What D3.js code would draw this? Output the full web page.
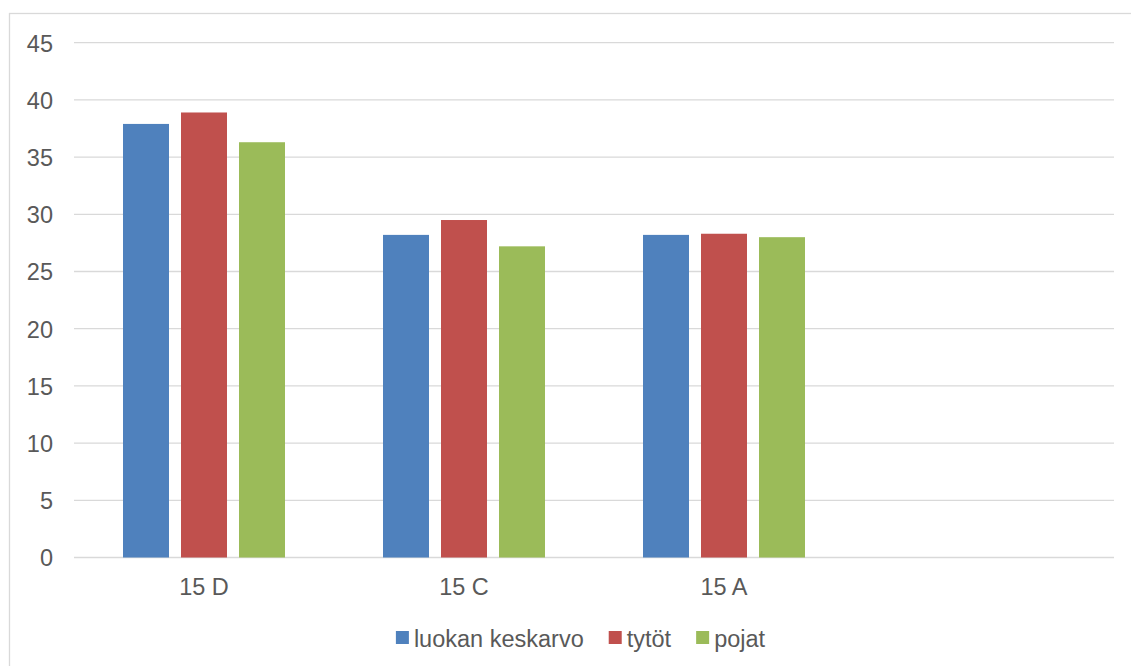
<!DOCTYPE html>
<html>
<head>
<meta charset="utf-8">
<script src="https://cdn.jsdelivr.net/npm/d3@7"></script>
<style>
  html, body { margin: 0; padding: 0; background: #fff; }
  svg { display: block; }
  text { font-family: "Liberation Sans", Arial, sans-serif; fill: #595959; }
</style>
</head>
<body>
<svg id="chart" width="1131" height="666"></svg>
<script>
const categories = ["15 D", "15 C", "15 A", ""];
const seriesNames = ["luokan keskarvo", "tytöt", "pojat"];
const luokanKeskarvo = [37.9, 28.2, 28.2, null];
const tytot = [38.9, 29.5, 28.3, null];
const pojat = [36.3, 27.2, 28.0, null];
const yTicks = [0, 5, 10, 15, 20, 25, 30, 35, 40, 45];
const colors = ["#4F81BD", "#C0504D", "#9BBB59"];

const seriesValues = [luokanKeskarvo, tytot, pojat];

const svg = d3.select("#chart");
const W = 1131, H = 666;
const plot = { left: 74, right: 1114, top: 42.7, bottom: 557.5 };
const fontSize = 23.5;

// outer chart border
svg.append("rect")
  .attr("x", 9.5).attr("y", 13.5)
  .attr("width", W + 20).attr("height", H)
  .attr("fill", "#fff").attr("stroke", "#D9D9D9").attr("stroke-width", 1.3);

const x0 = d3.scaleBand().domain(categories).range([plot.left, plot.right]).paddingInner(0).paddingOuter(0);
const x1 = d3.scaleBand().domain(seriesNames).range([-81, 81]).paddingInner(12 / 58).paddingOuter(0);
const y = d3.scaleLinear().domain([0, 45]).range([plot.bottom, plot.top]);

// gridlines
svg.append("g")
  .selectAll("line").data(yTicks).join("line")
  .attr("x1", plot.left).attr("x2", plot.right)
  .attr("y1", d => y(d)).attr("y2", d => y(d))
  .attr("stroke", "#D9D9D9").attr("stroke-width", 1.3);

// y axis labels
const yAxis = d3.axisLeft(y).tickValues(yTicks).tickSize(0).tickPadding(0);
const gy = svg.append("g").attr("transform", `translate(53,0)`).call(yAxis);
gy.select(".domain").remove();
gy.selectAll("text")
  .attr("font-size", fontSize)
  .attr("font-family", "'Liberation Sans', Arial, sans-serif")
  .attr("fill", "#595959")
  .attr("dy", "0.36em");

// bars
const groups = svg.append("g").selectAll("g").data(categories).join("g")
  .attr("transform", d => `translate(${x0(d) + x0.bandwidth() / 2},0)`);
groups.selectAll("rect")
  .data((c, i) => seriesNames.map((s, j) => ({ s, j, v: seriesValues[j][i] })).filter(d => d.v != null))
  .join("rect")
  .attr("x", d => x1(d.s))
  .attr("width", x1.bandwidth())
  .attr("y", d => y(d.v))
  .attr("height", d => y(0) - y(d.v))
  .attr("fill", d => colors[d.j]);

// x axis labels
const xAxis = d3.axisBottom(x0).tickSize(0).tickPadding(0);
const gx = svg.append("g").attr("transform", `translate(0,${plot.bottom})`).call(xAxis);
gx.select(".domain").remove();
gx.selectAll("text")
  .attr("font-size", fontSize)
  .attr("font-family", "'Liberation Sans', Arial, sans-serif")
  .attr("fill", "#595959")
  .attr("y", 37).attr("dy", 0);

// legend
const legend = svg.append("g");
const items = legend.selectAll("g").data(seriesNames).join("g");
items.append("rect").attr("width", 13).attr("height", 13).attr("y", -15.5)
  .attr("fill", (d, i) => colors[i]);
items.append("text").attr("x", 18).attr("y", 0)
  .attr("font-size", fontSize).text(d => d);
let cx = 0;
const widths = [];
items.each(function () {
  widths.push(d3.select(this).select("text").node().getComputedTextLength() + 18);
});
const gap = 25;
const total = d3.sum(widths) + gap * (widths.length - 1);
const startX = 580.5 - total / 2;
items.attr("transform", (d, i) => {
  const t = `translate(${startX + cx},646.5)`;
  cx += widths[i] + gap;
  return t;
});
</script>
</body>
</html>
